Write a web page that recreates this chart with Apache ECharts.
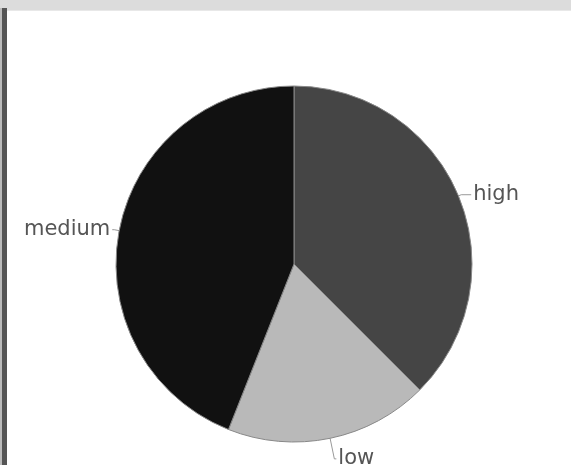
<!DOCTYPE html>
<html>
<head>
<meta charset="utf-8">
<script src="https://cdn.jsdelivr.net/npm/echarts@6/dist/echarts.min.js"></script>
<style>
html,body{margin:0;padding:0;background:#fff;width:571px;height:465px;overflow:hidden;}
#top{position:absolute;left:0;top:0;width:571px;height:10px;background:#dcdcdc;border-bottom:1px solid #e8e8e8;}
#leftbar{position:absolute;left:2px;top:8px;width:5px;height:457px;background:#555;}
#edge{position:absolute;left:0;top:8px;width:2px;height:457px;background:#bbb;}
#chart{position:absolute;left:0;top:0;width:571px;height:465px;}
</style>
</head>
<body>
<div id="chart"></div>
<div id="top"></div>
<div id="edge"></div>
<div id="leftbar"></div>
<script>
var categories = ['high', 'low', 'medium'];
var values = [37.5, 18.5, 44];
var colors = ['#454545', '#b9b9b9', '#111111'];
var lineLengths = [3, 21, 5];
var lineLengths2 = [10, 2, 2];

var chart = echarts.init(document.getElementById('chart'));
chart.setOption({
  animation: false,
  series: [{
    type: 'pie',
    center: [294, 264],
    radius: 178,
    startAngle: 90,
    clockwise: true,
    avoidLabelOverlap: false,
    data: categories.map(function (c, i) {
      return {
        name: c, value: values[i],
        itemStyle: { color: colors[i] },
        labelLine: { length: lineLengths[i], length2: lineLengths2[i] }
      };
    }),
    itemStyle: { borderColor: '#888', borderWidth: 1 },
    label: {
      show: true,
      position: 'outside',
      color: '#555',
      fontSize: 21,
      fontFamily: 'DejaVu Sans',
      formatter: '{b}',
      distanceToLabelLine: 2
    },
    labelLine: { show: true, lineStyle: { color: '#999', width: 1 } }
  }]
});
</script>
</body>
</html>
